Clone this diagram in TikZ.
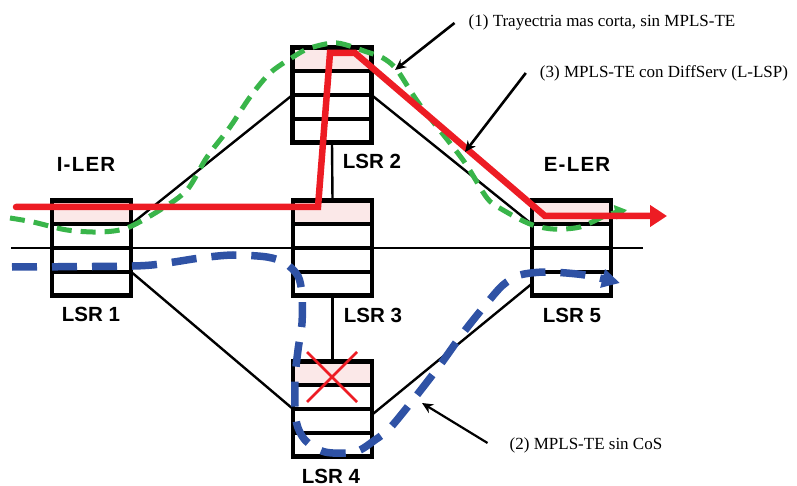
\documentclass[tikz,border=0pt]{standalone}
\usepackage{fontspec}
\setmainfont{Liberation Serif}
\setsansfont{Liberation Sans}
\usetikzlibrary{arrows.meta,calc}
\definecolor{rojo}{RGB}{237,28,36}
\definecolor{verde}{RGB}{57,181,74}
\definecolor{azul}{RGB}{47,82,165}
\definecolor{rosa}{RGB}{251,232,232}
\begin{document}
\begin{tikzpicture}[x=1pt,y=-1pt,
  router/.style={draw=black, line width=4.5pt, fill=white, minimum width=79pt, minimum height=95pt, inner sep=0pt, outer sep=0pt},
  rowline/.style={draw=black, line width=3.8pt},
  link/.style={draw=black, line width=2.4pt},
  rlabel/.style={font=\sffamily\bfseries\fontsize{20.5}{24}\selectfont, inner sep=0pt},
  elabel/.style={font=\sffamily\bfseries\fontsize{20.5}{24}\selectfont\addfontfeature{LetterSpace=6}, inner sep=0pt},
  note/.style={font=\fontsize{17}{20}\selectfont, inner sep=0pt},
  notearrow/.style={draw=black, line width=2.6pt, -{Stealth[length=11pt,width=10pt]}},
  redpath/.style={draw=rojo, line width=6.5pt, line cap=round, -{Triangle[length=17pt,width=21pt]}},
  greenpath/.style={draw=verde, line width=5pt, dash pattern=on 15pt off 9pt, -{Triangle[length=12pt,width=14pt]}},
  bluepath/.style={draw=azul, line width=7.5pt, dash pattern=on 25pt off 15pt, -{Triangle[length=18pt,width=18pt]}},
  cross/.style={draw=rojo, line width=2.6pt}
]
\useasboundingbox (0,0) rectangle (797,486);

% long horizontal line
\coordinate (hl) at (11,248);
\coordinate (hr) at (643,248);
\draw[link] (hl) -- (hr);

% routers
\node[router] (l1) at (91.5,248) {};
\node[router] (l2) at (332,95) {};
\node[router] (l3) at (332.5,248) {};
\node[router] (l4) at (332.5,409) {};
\node[router] (l5) at (571.5,248) {};

% links
\draw[link] ($(l1.north east)!0.25!(l1.south east)$) -- (l2.west);
\draw[link] (l2.east) -- ($(l5.north west)!0.25!(l5.south west)$);
\draw[link] (l2.south) -- (l3.north);
\draw[link] (l3.south) -- (l4.north);
\draw[link] ($(l1.north east)!0.75!(l1.south east)$) -- (l4.west);
\draw[link] ($(l4.north east)!0.56!(l4.south east)$) -- ($(l5.north west)!0.875!(l5.south west)$);

% rows
\foreach \n in {l1,l2,l3,l4,l5}{
  \fill[rosa] ([xshift=2.25pt,yshift=-2.25pt]\n.north west) rectangle ([xshift=-2.25pt]$(\n.north east)!0.25!(\n.south east)$);
  \foreach \f in {0.25,0.5,0.75}
    \draw[rowline] ($(\n.north west)!\f!(\n.south west)$) -- ($(\n.north east)!\f!(\n.south east)$);
}

% labels
\node[elabel] (iler) at (86,164) {I-LER};
\node[elabel] (eler) at (577,164) {E-LER};
\node[rlabel] (t1) at (91,314) {LSR 1};
\node[rlabel] (t2) at (372,161) {LSR 2};
\node[rlabel] (t3) at (373,315) {LSR 3};
\node[rlabel] (t4) at (331,476) {LSR 4};
\node[rlabel] (t5) at (572,315) {LSR 5};

% red cross on LSR4
\coordinate (xc) at (332,377);
\draw[cross] ([xshift=-25pt,yshift=25pt]xc) -- ([xshift=25pt,yshift=-25pt]xc);
\draw[cross] ([xshift=25pt,yshift=25pt]xc) -- ([xshift=-25pt,yshift=-25pt]xc);

% blue path
\draw[bluepath] plot[smooth] coordinates {(12,267) (133,266) (167,263) (200,258) (233,255) (267,257) (285,263) (298,276) (302,295) (302,323) (298,350) (295,380) (296,420) (305,440) (325,452) (355,452) (375,440) (390,428) (413,400) (440,365) (463,333) (487,303) (503,285) (520,275) (547,272) (585,275) (620,283)};

% green path
\draw[greenpath] plot[smooth] coordinates {(10,218) (33,222) (67,230) (100,232) (127,228) (160,210) (187,190) (207,157) (230,127) (250,97) (270,73) (293,57) (310,48) (337,43) (367,52) (383,58) (397,70) (420,105) (463,160) (487,198) (503,210) (530,224) (553,229) (580,227) (607,215) (627,210)};

% red path
\coordinate (rs) at (16,207);
\coordinate (re) at (667,216);
\draw[redpath] (rs) -- (318,207) -- (330,53) -- (355,53) -- (545,216) -- (re);

% notes
\node[note] (n1) at (602,22) {(1) Trayectria mas corta, sin MPLS-TE};
\node[note] (n3) at (664,73) {(3) MPLS-TE con DiffServ (L-LSP)};
\node[note] (n2) at (586,445) {(2) MPLS-TE sin CoS};
\coordinate (a1) at (395,70);
\coordinate (a3) at (465,152);
\coordinate (a2) at (422,403);
\draw[notearrow] ([xshift=-14pt,yshift=-1pt]n1.west) -- (a1);
\draw[notearrow] ([xshift=-14pt]n3.west) -- (a3);
\draw[notearrow, line width=2.2pt] ([xshift=-22pt,yshift=2pt]n2.west) -- (a2);
\end{tikzpicture}
\end{document}
